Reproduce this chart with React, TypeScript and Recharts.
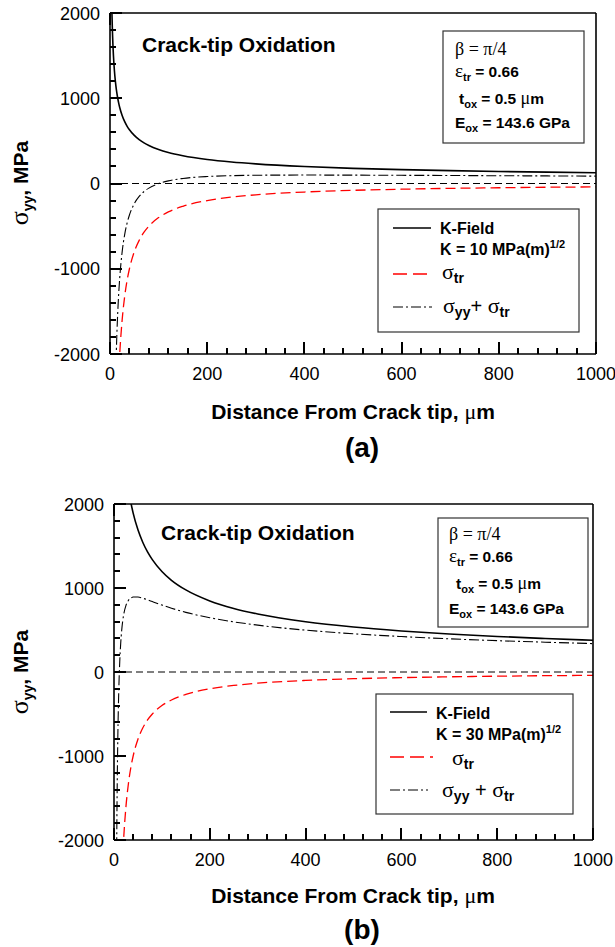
import React from 'react';
import { LineChart, Line, XAxis, YAxis, ReferenceLine } from 'recharts';

const SANS = "Arial, 'Liberation Sans', Helvetica, sans-serif";
const SERIF = "'Times New Roman', 'Liberation Serif', serif";

// distance from crack tip, um
const distance = [3, 4, 5, 6, 7, 8, 10, 12, 14, 16, 18, 20, 25, 30, 35, 40, 50, 60, 70, 80, 100, 120, 150, 200, 250, 300, 400, 500, 600, 700, 800, 900, 1000];

// (a) K = 10 MPa(m)^1/2
const kFieldA = [2303, 1995, 1784, 1629, 1508, 1410, 1261, 1152, 1066, 997, 940, 892, 798, 728, 674, 631, 564, 515, 477, 446, 399, 364, 326, 282, 252, 230, 199, 178, 163, 151, 141, 133, 126];
const totalA = [null, null, null, null, null, null, -2739, -2181, -1791, -1503, -1282, -1108, -802, -605, -469, -369, -236, -152, -94, -54, -1, 31, 59, 82, 92, 97, 99, 98, 96, 94, 91, 89, 86];

// (b) K = 30 MPa(m)^1/2
const kFieldB = [null, null, null, null, null, null, null, null, null, null, null, 2676, 2393, 2185, 2023, 1892, 1692, 1545, 1430, 1338, 1197, 1092, 977, 846, 757, 691, 598, 535, 489, 452, 423, 399, 378];
const totalB = [null, -4016, -2648, -1782, -1191, -769, -216, 122, 341, 492, 599, 676, 793, 852, 880, 892, 892, 878, 859, 838, 797, 759, 710, 646, 597, 558, 498, 455, 422, 395, 373, 355, 338];

// sigma_tr, same in both panels
const sigmaTr = [null, null, null, null, null, null, null, null, -2857, -2500, -2222, -2000, -1600, -1333, -1143, -1000, -800, -667, -571, -500, -400, -333, -267, -200, -160, -133, -100, -80, -67, -57, -50, -44, -40];

const xMajor = [0, 200, 400, 600, 800, 1000];
const xMinor = [0, 40, 80, 120, 160, 200, 240, 280, 320, 360, 400, 440, 480, 520, 560, 600, 640, 680, 720, 760, 800, 840, 880, 920, 960, 1000];
const yMajor = [-2000, -1000, 0, 1000, 2000];
const yMinor = [-2000, -1800, -1600, -1400, -1200, -1000, -800, -600, -400, -200, 0, 200, 400, 600, 800, 1000, 1200, 1400, 1600, 1800, 2000];

const dataA = distance.map((d, i) => ({ d, kField: kFieldA[i], sigmaTr: sigmaTr[i], total: totalA[i] }));
const dataB = distance.map((d, i) => ({ d, kField: kFieldB[i], sigmaTr: sigmaTr[i], total: totalB[i] }));

const MAJ = 12, MIN = 6;
const TICK_W = 2;

// tick marks point inward (snapped to whole pixels); labels only on major ticks
const BottomTick = ({ x, y, payload }: any) => {
  const v = Number(payload.value);
  const major = xMajor.includes(v);
  const px = Math.round(Number(x)), py = Math.round(Number(y));
  return (
    <g>
      <path d={`M${px},${py}L${px},${py - (major ? MAJ : MIN)}`} stroke="#000" strokeWidth={TICK_W} fill="none" />
      {major && (
        <text x={x} y={py + 26} textAnchor="middle" fontSize={18} fontFamily={SANS} fill="#000">{v}</text>
      )}
    </g>
  );
};

const LeftTick = ({ x, y, payload }: any) => {
  const v = Number(payload.value);
  const major = yMajor.includes(v);
  const px = Math.round(Number(x)), py = Math.round(Number(y));
  return (
    <g>
      <path d={`M${px},${py}L${px + (major ? MAJ : MIN)},${py}`} stroke="#000" strokeWidth={TICK_W} fill="none" />
      {major && (
        <text x={px - 10} y={Number(y) + 6.5} textAnchor="end" fontSize={18} fontFamily={SANS} fill="#000">{v}</text>
      )}
    </g>
  );
};

const TopTick = ({ x, y, payload }: any) => {
  const len = xMajor.includes(Number(payload.value)) ? MAJ : MIN;
  const px = Math.round(Number(x)), py = Math.round(Number(y));
  return <path d={`M${px},${py}L${px},${py + len}`} stroke="#000" strokeWidth={TICK_W} fill="none" />;
};

const RightTick = ({ x, y, payload }: any) => {
  const len = yMajor.includes(Number(payload.value)) ? MAJ : MIN;
  const px = Math.round(Number(x)), py = Math.round(Number(y));
  return <path d={`M${px},${py}L${px - len},${py}`} stroke="#000" strokeWidth={TICK_W} fill="none" />;
};

const frame = { stroke: '#000', strokeWidth: 1.6 };

const Panel = ({ data, top, height, margin }: any) => (
  <div style={{ position: 'absolute', left: 0, top }}>
    <LineChart width={615} height={height} data={data} margin={margin}>
      <XAxis dataKey="d" type="number" domain={[0, 1000]} ticks={xMinor} interval={0} height={30}
        tickSize={0} tickMargin={0} tickLine={false} axisLine={frame} tick={BottomTick} />
      <XAxis xAxisId="top" type="number" domain={[0, 1000]} ticks={xMinor} interval={0}
        orientation="top" mirror tickSize={0} tickMargin={0} tickLine={false} axisLine={frame} tick={TopTick} />
      <YAxis type="number" domain={[-2000, 2000]} allowDataOverflow ticks={yMinor} interval={0} width={60}
        tickSize={0} tickMargin={0} tickLine={false} axisLine={frame} tick={LeftTick} />
      <YAxis yAxisId="right" type="number" domain={[-2000, 2000]} ticks={yMinor} interval={0}
        orientation="right" mirror tickSize={0} tickMargin={0} tickLine={false} axisLine={frame} tick={RightTick} />
      <ReferenceLine y={0} stroke="#000" strokeWidth={1.2} strokeDasharray="7 4" />
      <Line type="monotone" dataKey="kField" stroke="#000" strokeWidth={1.6} dot={false} isAnimationActive={false} />
      <Line type="monotone" dataKey="sigmaTr" stroke="#ff0000" strokeWidth={1.3} strokeDasharray="10 5" dot={false} isAnimationActive={false} />
      <Line type="monotone" dataKey="total" stroke="#000" strokeWidth={1.1} strokeDasharray="10 3 2 3" dot={false} isAnimationActive={false} />
    </LineChart>
  </div>
);

const ParamBox = ({ x, y, w, h, tx, ttx, base }: any) => (
  <g>
    <rect x={x} y={y} width={w} height={h} fill="#fff" stroke="#333" strokeWidth={1.2} />
    <text x={tx} y={base[0]} fontFamily={SERIF} fontSize={18}>β = π/4</text>
    <text x={tx} y={base[1]} fontFamily={SANS} fontWeight="bold" fontSize={15.5}>
      <tspan fontFamily={SERIF} fontWeight="normal" fontSize={19}>ε</tspan>
      <tspan fontSize={11} dy={4}>tr</tspan>
      <tspan dy={-4}> = 0.66</tspan>
    </text>
    <text x={ttx} y={base[2]} fontFamily={SANS} fontWeight="bold" fontSize={15.5}>
      t<tspan fontSize={11} dy={4}>ox</tspan>
      <tspan dy={-4}> = 0.5 </tspan>
      <tspan fontFamily={SERIF} fontWeight="normal" fontSize={18}>μ</tspan>m
    </text>
    <text x={tx} y={base[3]} fontFamily={SANS} fontWeight="bold" fontSize={15.5}>
      E<tspan fontSize={11} dy={4}>ox</tspan>
      <tspan dy={-4}> = 143.6 GPa</tspan>
    </text>
  </g>
);

const LegendBox = ({ x, y, w, h, sx, sw, sy, tx, base, kText, plus }: any) => (
  <g>
    <rect x={x} y={y} width={w} height={h} fill="#fff" stroke="#333" strokeWidth={1.2} />
    <line x1={sx} x2={sx + sw[0]} y1={sy[0]} y2={sy[0]} stroke="#000" strokeWidth={1.5} />
    <line x1={sx} x2={sx + sw[1]} y1={sy[1]} y2={sy[1]} stroke="#ff0000" strokeWidth={1.3} strokeDasharray="14 6" />
    <line x1={sx} x2={sx + sw[2]} y1={sy[2]} y2={sy[2]} stroke="#000" strokeWidth={1.1} strokeDasharray="10 3 2 3" />
    <text x={tx[0]} y={base[0]} fontFamily={SANS} fontWeight="bold" fontSize={16}>K-Field</text>
    <text x={tx[0]} y={base[1]} fontFamily={SANS} fontWeight="bold" fontSize={16}>
      {kText}<tspan fontSize={11} dy={-7}>1/2</tspan>
    </text>
    <text x={tx[1]} y={base[2]} fontFamily={SANS} fontWeight="bold" fontSize={14}>
      <tspan fontFamily={SERIF} fontWeight="normal" fontSize={22}>σ</tspan>
      <tspan dy={4}>tr</tspan>
    </text>
    <text x={tx[2]} y={base[3]} fontFamily={SANS} fontWeight="bold" fontSize={14}>
      <tspan fontFamily={SERIF} fontWeight="normal" fontSize={22}>σ</tspan>
      <tspan dy={4}>yy</tspan>
      <tspan dy={-4} fontSize={20} fontWeight="normal">{plus}</tspan>
      <tspan fontFamily={SERIF} fontWeight="normal" fontSize={22}>σ</tspan>
      <tspan dy={4}>tr</tspan>
    </text>
  </g>
);

const YTitle = ({ cx, cy }: any) => (
  <text x={cx} y={cy + 7} transform={`rotate(-90, ${cx}, ${cy})`} textAnchor="middle"
    fontFamily={SANS} fontWeight="bold" fontSize={21}>
    <tspan fontFamily={SERIF} fontWeight="normal" fontSize={26}>σ</tspan>
    <tspan fontSize={14} dy={5}>yy</tspan>
    <tspan dy={-5}>, MPa</tspan>
  </text>
);

export default function App() {
  return (
    <div style={{ position: 'absolute', left: 0, top: 0, width: 615, height: 947, background: '#fff' }}>
      <Panel data={dataA} top={0} height={384} margin={{ top: 13, right: 19, bottom: 0, left: 50 }} />
      <Panel data={dataB} top={490} height={380} margin={{ top: 14, right: 22, bottom: 0, left: 54 }} />
      <svg width={615} height={947} style={{ position: 'absolute', left: 0, top: 0, pointerEvents: 'none' }}>
        <text x={142} y={51.5} fontFamily={SANS} fontWeight="bold" fontSize={21}>Crack-tip Oxidation</text>
        <text x={161} y={539.5} fontFamily={SANS} fontWeight="bold" fontSize={21}>Crack-tip Oxidation</text>

        <ParamBox x={443} y={31} w={141} h={112} tx={455} ttx={459} base={[55, 77, 104, 128]} />
        <ParamBox x={438} y={518} w={150} h={109} tx={449} ttx={456} base={[539.5, 562, 589, 613.5]} />

        <LegendBox x={378} y={209} w={201} h={123} sx={393} sw={[38, 34, 39]} sy={[228, 274, 307]}
          tx={[440, 442, 443]} base={[234, 255, 279, 313]} kText="K = 10 MPa(m)" plus="+ " />
        <LegendBox x={376} y={694} w={197} h={120} sx={390} sw={[37, 43, 38]} sy={[712, 757, 790]}
          tx={[436, 452, 442]} base={[719, 740, 765, 797]} kText="K = 30 MPa(m)" plus=" + " />

        <YTitle cx={21} cy={183} />
        <YTitle cx={21} cy={672} />

        <text x={353} y={419} textAnchor="middle" fontFamily={SANS} fontWeight="bold" fontSize={21}>
          Distance From Crack tip, <tspan fontFamily={SERIF} fontWeight="normal" fontSize={22}>μ</tspan>m
        </text>
        <text x={353} y={903} textAnchor="middle" fontFamily={SANS} fontWeight="bold" fontSize={21}>
          Distance From Crack tip, <tspan fontFamily={SERIF} fontWeight="normal" fontSize={22}>μ</tspan>m
        </text>
        <text x={362} y={457} textAnchor="middle" fontFamily={SANS} fontWeight="bold" fontSize={28}>(a)</text>
        <text x={362} y={939} textAnchor="middle" fontFamily={SANS} fontWeight="bold" fontSize={28}>(b)</text>
      </svg>
    </div>
  );
}
